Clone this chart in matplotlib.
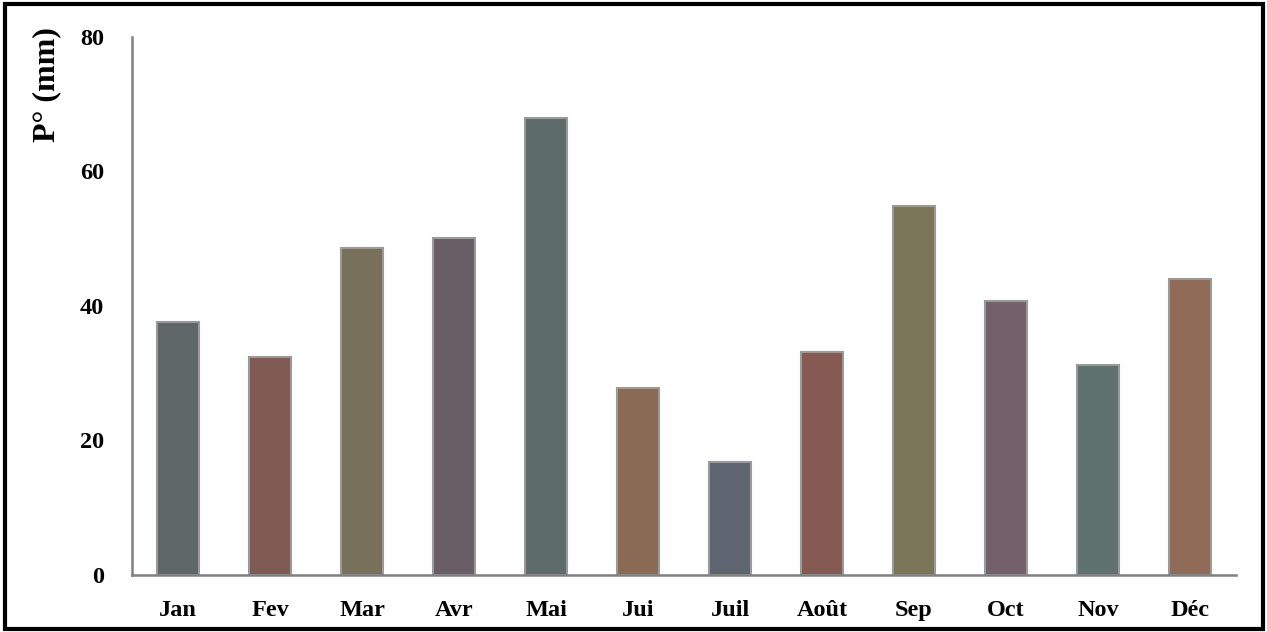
import matplotlib.pyplot as plt
from matplotlib.patches import Rectangle

months = ['Jan', 'Fev', 'Mar', 'Avr', 'Mai', 'Jui', 'Juil', 'Août', 'Sep', 'Oct', 'Nov', 'Déc']
precip = [37.6, 32.4, 48.6, 50.1, 68.0, 27.8, 16.8, 33.2, 54.9, 40.7, 31.2, 44.0]
colors = ['#5f6668', '#7f5a52', '#78705a', '#6a5e66', '#5d6c6a', '#8a6a55',
          '#5e6470', '#855a52', '#7a7558', '#736068', '#5f726e', '#906b58']
y_ticks = [0, 20, 40, 60, 80]

plt.rcParams['font.family'] = ['Liberation Serif', 'DejaVu Serif']
plt.rcParams['font.weight'] = 'bold'

fig = plt.figure(figsize=(12.67, 6.32), dpi=100)
ax = fig.add_axes([132 / 1267, 1 - 575 / 632, 1104 / 1267, (575 - 37) / 632])

x = range(len(months))
ax.bar(x, precip, width=0.45, color=colors, edgecolor='#9a9a9a', linewidth=1.5)

ax.set_xlim(-0.5, len(months) - 0.5)
ax.set_ylim(0, 80)
ax.set_yticks(y_ticks)
ax.set_xticks(list(x))
ax.set_xticklabels(months)
ax.tick_params(axis='both', length=0, labelsize=17.5)
ax.tick_params(axis='x', pad=18)
ax.tick_params(axis='y', pad=20)
for lbl in ax.get_xticklabels() + ax.get_yticklabels():
    lbl.set_fontweight('bold')

for s in ['top', 'right']:
    ax.spines[s].set_visible(False)
for s in ['left', 'bottom']:
    ax.spines[s].set_color('#808080')
    ax.spines[s].set_linewidth(1.8)

fig.text(47 / 1267, 1 - 85 / 632, 'P° (mm)', rotation=90, ha='center', va='center',
         fontsize=23, fontweight='bold')

# black frame round the picture
fig.patches.append(Rectangle((0.004, 0.004), 0.993, 0.99, transform=fig.transFigure,
                             fill=False, edgecolor='black', linewidth=3))

fig.savefig('out.png', dpi=100)
